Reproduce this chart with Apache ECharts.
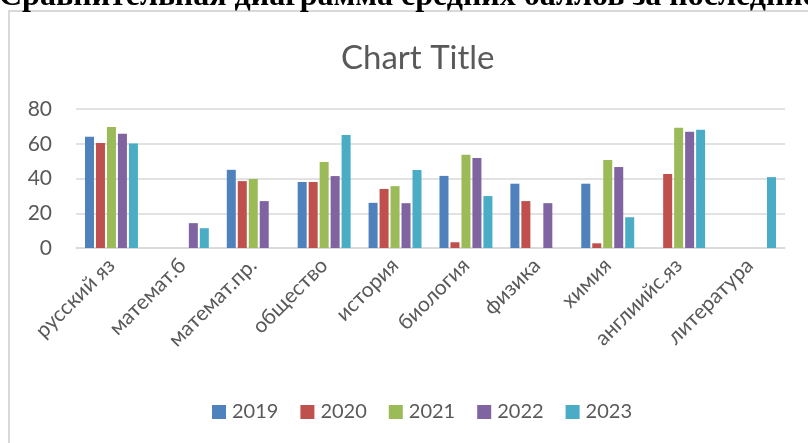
<!DOCTYPE html>
<html>
<head>
<meta charset="utf-8">
<style>
html,body{margin:0;padding:0;background:#fff;}
#c{width:808px;height:443px;}
</style>
<script src="https://cdn.jsdelivr.net/npm/echarts@6/dist/echarts.min.js"></script>
</head>
<body>
<div id="c"></div>
<script>
var categories = ['русский яз','математ.б','математ.пр.','общество','история','биология','физика','химия','англиийс.яз','литература'];
var years = ['2019','2020','2021','2022','2023'];
var v2019 = [64, null, 45, 38, 26, 41.5, 37, 37, null, null];
var v2020 = [60.5, null, 38.5, 38, 34, 3.3, 27, 2.7, 42.6, null];
var v2021 = [69.7, null, 39.7, 49.5, 35.6, 53.6, null, 50.7, 69.2, null];
var v2022 = [65.7, 14.3, 27, 41.4, 25.8, 51.8, 25.8, 46.6, 66.9, null];
var v2023 = [60.1, 11.4, null, 65.1, 44.9, 29.9, null, 17.7, 68, 40.8];
var yTicks = [0, 20, 40, 60, 80];
var colors = ['#4f81bd','#c0504d','#9bbb59','#8064a2','#4bacc6'];
var docTitle = 'Сравнительная диаграмма средних баллов за последние 5 лет';
var chartTitle = 'Chart Title';

var seriesValues = [v2019, v2020, v2021, v2022, v2023];
var FONT = 'Lato';
var chart = echarts.init(document.getElementById('c'));
chart.setOption({
  animation: false,
  backgroundColor: '#fff',
  color: colors,
  title: {
    text: chartTitle,
    left: 336,
    top: 37,
    textStyle: {color: '#595959', fontFamily: FONT, fontSize: 33, fontWeight: 'normal'}
  },
  graphic: [
    {type: 'rect', shape: {x: 9, y: 11, width: 900, height: 500}, style: {fill: 'none', stroke: '#d9d9d9', lineWidth: 2}, z: -1},
    {type: 'text', left: -1, top: -19, style: {text: docTitle, font: 'bold 32px "Liberation Serif"', fill: '#000'}}
  ],
  legend: {
    data: years,
    bottom: 16,
    left: 207,
    itemWidth: 14,
    itemHeight: 14,
    itemGap: 22,
    icon: 'rect',
    textStyle: {color: '#595959', fontFamily: FONT, fontSize: 20, padding: [0,0,0,1]}
  },
  grid: {left: 76, right: 23, top: 109, bottom: 195},
  xAxis: {
    type: 'category',
    data: categories,
    axisLine: {lineStyle: {color: '#d9d9d9', width: 1.5}},
    axisTick: {show: false},
    axisLabel: {rotate: 45, color: '#595959', fontFamily: FONT, fontSize: 21, margin: 14, interval: 0}
  },
  yAxis: {
    type: 'value',
    min: yTicks[0],
    max: yTicks[yTicks.length - 1],
    interval: 20,
    axisLine: {show: false},
    axisTick: {show: false},
    splitLine: {lineStyle: {color: '#d9d9d9', width: 1.5}},
    axisLabel: {color: '#595959', fontFamily: FONT, fontSize: 21, margin: 24}
  },
  series: years.map(function (y, i) {
    return {
      name: y,
      type: 'bar',
      data: seriesValues[i],
      barWidth: 9,
      barGap: '22%'
    };
  })
});
</script>
</body>
</html>
